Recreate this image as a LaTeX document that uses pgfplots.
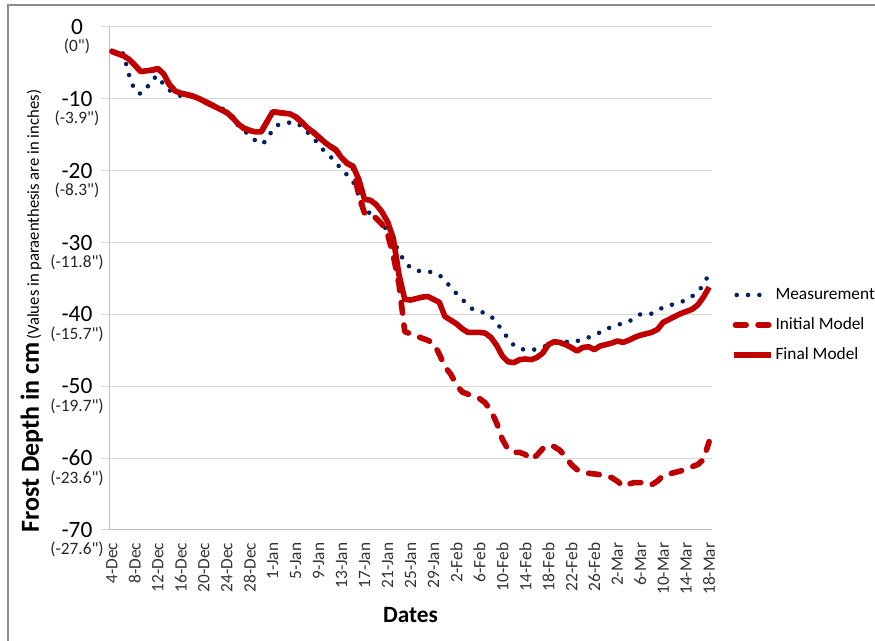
\documentclass[border=0pt]{standalone}
\usepackage{fontspec}
\setmainfont{Carlito}
\usepackage{pgfplots}
\usepackage{pgfplotstable}
\pgfplotsset{compat=1.18}
\definecolor{mred}{HTML}{C00000}
\definecolor{mblue}{HTML}{002060}
\definecolor{gridc}{HTML}{D9D9D9}
\definecolor{axc}{HTML}{BFBFBF}
\newcommand{\qd}{\textquotedbl}
\pgfplotsset{
  legdot/.style={legend image code/.code={\draw[##1] (2pt,0pt) -- (22pt,0pt);}},
  legdash/.style={legend image code/.code={\draw[##1] (1pt,0pt) -- (27pt,0pt);}},
  legsolid/.style={legend image code/.code={\draw[##1] (0pt,0pt) -- (28pt,0pt);}},
}

\pgfplotstableread{
d v
0 -3.3
1 -3.5
2 -3.7
3 -6.7
4 -8.9
5 -9.3
6 -8.6
7 -7.3
8 -6.8
9 -8.0
10 -8.8
11 -9.2
12 -9.6
13 -9.6
14 -9.6
15 -10.0
16 -10.3
17 -10.7
18 -11.0
19 -11.3
20 -11.6
21 -12.8
22 -13.7
23 -14.4
24 -15.1
25 -15.8
26 -16.3
27 -15.8
28 -14.2
29 -13.6
30 -13.4
31 -13.3
32 -13.3
33 -13.8
34 -14.6
35 -15.4
36 -16.3
37 -17.3
38 -18.0
39 -18.8
40 -19.9
41 -20.6
42 -21.5
43 -23.5
44 -25.2
45 -26.0
46 -26.6
47 -27.1
48 -28.5
49 -29.7
50 -31.3
51 -32.7
52 -33.5
53 -33.9
54 -34.0
55 -34.0
56 -34.2
57 -34.5
58 -35.3
59 -36.2
60 -37.1
61 -37.9
62 -38.7
63 -39.4
64 -39.6
65 -39.8
66 -40.2
67 -41.2
68 -42.2
69 -43.4
70 -44.3
71 -44.8
72 -44.9
73 -45.0
74 -44.8
75 -44.6
76 -44.2
77 -43.9
78 -43.8
79 -43.8
80 -43.9
81 -43.7
82 -43.5
83 -43.2
84 -42.9
85 -42.5
86 -42.0
87 -41.8
88 -41.5
89 -41.2
90 -41.0
91 -40.5
92 -40.0
93 -39.9
94 -39.9
95 -39.5
96 -39.0
97 -38.8
98 -38.5
99 -38.3
100 -38.0
101 -37.5
102 -36.9
103 -35.9
104 -34.3
}\meas

\pgfplotstableread{
d v
0 -3.4
1 -3.7
2 -4.0
3 -4.5
4 -5.3
5 -6.2
6 -6.1
7 -6.0
8 -5.8
9 -6.5
10 -8.0
11 -8.9
12 -9.2
13 -9.4
14 -9.6
15 -9.9
16 -10.3
17 -10.7
18 -11.1
19 -11.5
20 -11.9
21 -12.6
22 -13.5
23 -14.1
24 -14.4
25 -14.6
26 -14.6
27 -13.2
28 -11.8
29 -11.9
30 -12.0
31 -12.1
32 -12.5
33 -13.2
34 -14.0
35 -14.6
36 -15.3
37 -16.0
38 -16.6
39 -17.1
40 -18.2
41 -19.0
42 -19.4
43 -23.5
44 -25.9
45 -26.1
46 -26.6
47 -27.4
48 -28.8
49 -31.8
50 -35.8
51 -42.4
52 -42.7
53 -43.0
54 -43.3
55 -43.6
56 -44.0
57 -45.5
58 -47.3
59 -48.3
60 -49.8
61 -50.8
62 -51.1
63 -51.4
64 -51.7
65 -52.3
66 -53.4
67 -55.1
68 -57.4
69 -58.8
70 -59.2
71 -59.2
72 -59.5
73 -60.2
74 -59.6
75 -58.7
76 -58.2
77 -58.4
78 -58.9
79 -59.8
80 -60.9
81 -61.6
82 -61.9
83 -62.1
84 -62.2
85 -62.3
86 -62.5
87 -62.7
88 -63.2
89 -63.9
90 -63.6
91 -63.4
92 -63.4
93 -63.4
94 -63.7
95 -63.2
96 -62.4
97 -62.2
98 -62.0
99 -61.8
100 -61.5
101 -61.2
102 -60.9
103 -60.2
104 -57.7
}\initial

\pgfplotstableread{
d v
0 -3.4
1 -3.7
2 -4.0
3 -4.5
4 -5.3
5 -6.2
6 -6.1
7 -6.0
8 -5.8
9 -6.5
10 -8.0
11 -8.9
12 -9.2
13 -9.4
14 -9.6
15 -9.9
16 -10.3
17 -10.7
18 -11.1
19 -11.5
20 -11.9
21 -12.6
22 -13.5
23 -14.1
24 -14.4
25 -14.6
26 -14.6
27 -13.2
28 -11.8
29 -11.9
30 -12.0
31 -12.1
32 -12.5
33 -13.2
34 -14.0
35 -14.6
36 -15.3
37 -16.0
38 -16.6
39 -17.1
40 -18.2
41 -19.0
42 -19.4
43 -21.2
44 -24.0
45 -24.1
46 -24.7
47 -25.7
48 -27.1
49 -29.4
50 -34.5
51 -37.9
52 -38.0
53 -37.8
54 -37.6
55 -37.5
56 -37.9
57 -38.3
58 -40.3
59 -40.8
60 -41.3
61 -42.0
62 -42.5
63 -42.5
64 -42.5
65 -42.6
66 -43.2
67 -44.3
68 -45.8
69 -46.6
70 -46.7
71 -46.3
72 -46.2
73 -46.3
74 -46.0
75 -45.4
76 -44.2
77 -43.8
78 -43.9
79 -44.2
80 -44.6
81 -45.1
82 -44.6
83 -44.5
84 -44.9
85 -44.4
86 -44.2
87 -44.0
88 -43.7
89 -43.9
90 -43.6
91 -43.2
92 -42.9
93 -42.7
94 -42.5
95 -42.1
96 -41.1
97 -40.7
98 -40.3
99 -39.9
100 -39.6
101 -39.3
102 -38.7
103 -37.6
104 -36.2
}\final

\begin{document}
\begin{tikzpicture}[x=1pt,y=1pt]
\useasboundingbox (0,0) rectangle (656.25,480.75);
\fill[white] (0,0) rectangle (656.25,480.75);
\draw[line width=0.9pt, color=black!45] (6,-2) -- (6,477) -- (658,477);
\begin{axis}[
  at={(81.75pt,83.25pt)}, anchor=south west,
  width=452.25pt, height=377.25pt, scale only axis,
  xmin=-0.5, xmax=104.5, ymin=-70, ymax=0,
  axis x line*=bottom, axis y line*=left,
  axis line style={draw=axc, line width=0.75pt, -},
  xtick={0,4,...,104},
  xticklabels={4-Dec,8-Dec,12-Dec,16-Dec,20-Dec,24-Dec,28-Dec,1-Jan,5-Jan,9-Jan,13-Jan,17-Jan,21-Jan,25-Jan,29-Jan,2-Feb,6-Feb,10-Feb,14-Feb,18-Feb,22-Feb,26-Feb,2-Mar,6-Mar,10-Mar,14-Mar,18-Mar},
  x tick label style={rotate=90, anchor=east, font=\fontsize{13}{15}\selectfont, text=black!80},
  xtick style={draw=none},
  ytick={0,-10,-20,-30,-40,-50,-60,-70},
  yticklabels={0,-10,-20,-30,-40,-50,-60,-70},
  yticklabel style={anchor=center, xshift=-18pt, font=\fontsize{17.5}{19}\selectfont, text=black, inner sep=0pt},
  ytick style={draw=gridc, line width=0.75pt},
  major tick length=6pt, tick align=outside,
  ymajorgrids, grid style={draw=gridc, line width=0.75pt},
  extra y ticks={0,-10,-20,-30,-40,-50,-60,-70},
  extra y tick labels={(0\qd),(-3.9\qd),(-8.3\qd),(-11.8\qd),(-15.7\qd),(-19.7\qd),(-23.6\qd),(-27.6\qd)},
  extra y tick style={grid=none, tick style={draw=none},
    yticklabel style={yshift=-14.8pt, font=\fontsize{13}{15}\selectfont, text=black!85, inner sep=0pt}},
  ylabel={{\bfseries\fontsize{19.5}{22}\selectfont Frost Depth in cm} {\fontsize{12.5}{14}\selectfont (Values in paraenthesis are in inches)}},
  ylabel style={at={(axis description cs:-0.128,0.435)}, anchor=center},
  xlabel={\bfseries\fontsize{17.5}{20}\selectfont Dates},
  xlabel style={at={(axis description cs:0.5,-0.169)}, anchor=center},
  legend style={at={(axis description cs:1.0315,0.4076)}, anchor=west, draw=none, fill=none,
    font=\fontsize{13}{15}\selectfont, inner sep=0pt, row sep=8pt,
    nodes={inner sep=1pt, anchor=west, text height=9.5pt, text depth=3pt}},
  legend cell align=left,
]
\addplot[mblue, line width=3.4pt, line cap=round, dash pattern=on 0pt off 8.5pt, legdot] table[x=d,y=v] {\meas};
\addlegendentry{Measurement}
\addplot[mred, line width=4.2pt, line cap=round, line join=round, dash pattern=on 8pt off 9pt, legdash] table[x=d,y=v] {\initial};
\addlegendentry{Initial Model}
\addplot[mred, line width=4.2pt, line join=round, legsolid] table[x=d,y=v] {\final};
\addlegendentry{Final Model}
\end{axis}
\end{tikzpicture}
\end{document}
